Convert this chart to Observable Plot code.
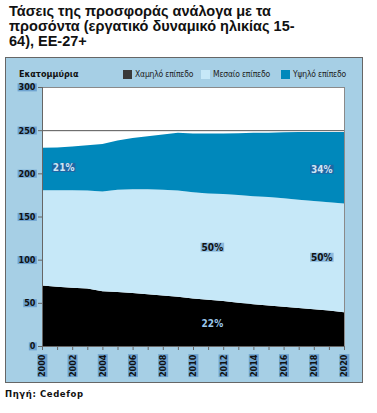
<!DOCTYPE html>
<html><head><meta charset="utf-8">
<script src="https://cdn.jsdelivr.net/npm/d3@7"></script>
<script src="https://cdn.jsdelivr.net/npm/@observablehq/plot@0.6"></script>
<style>
body{margin:0;background:#fff;width:377px;height:413px;position:relative;overflow:hidden;font-family:"Liberation Sans",Arial,sans-serif}
#title{position:absolute;left:9px;top:4px;font-weight:bold;font-size:14.5px;line-height:15px;color:#111;white-space:nowrap}
#panel{position:absolute;left:5px;top:57px;width:356px;height:324px;background:#a6cfe5;border:1px solid #666}
#chart{position:absolute;left:0;top:0}
.nar{font-family:"Liberation Sans Narrow","DejaVu Sans Condensed",sans-serif}
#unit{position:absolute;left:13px;top:11px;font-size:9px;font-weight:bold;color:#111}
.leg{position:absolute;top:11px;font-size:8.5px;color:#222;display:flex;align-items:center;white-space:nowrap;letter-spacing:-0.2px}
.sw{width:9px;height:9px;margin-right:3px;display:inline-block}
#source{position:absolute;left:5px;top:389px;font-family:"DejaVu Sans",sans-serif;font-weight:bold;font-size:8.5px;letter-spacing:0.6px;color:#111}
</style></head>
<body>
<div id="title">Τάσεις της προσφοράς ανάλογα με τα<br>προσόντα (εργατικό δυναμικό ηλικίας 15-<br>64), ΕΕ-27+</div>
<div id="panel">
  <div id="chart"></div>
  <div id="unit" class="nar">Εκατομμύρια</div>
  <div id="legend"></div>
</div>
<div id="source">Πηγή: Cedefop</div>
<script>
// ---- data ----
const years = [2000,2001,2002,2003,2004,2005,2006,2007,2008,2009,2010,2011,2012,2013,2014,2015,2016,2017,2018,2019,2020];
const levels = ["Χαμηλό επίπεδο","Μεσαίο επίπεδο","Υψηλό επίπεδο"];
const lowValues    = [70,68.5,67.5,66.5,63.5,62.5,61.5,60,58.5,57,55,53.5,52,50,48.5,47,45.5,44,42.5,41,39];
const mediumValues = [110.5,112,113,113.5,115.5,118.5,120,121.5,122.5,123,123,123,124,125,125,125.5,125.5,125.5,125.5,125.5,126];
const highValues   = [49,49.5,50.5,52.5,55,57,59.5,61.5,64,67,68,69.5,70,71.5,73.5,74.5,76.5,78.5,80,81.5,83];
const yTicks = [0,50,100,150,200,250,300];
const xTickYears = [2000,2002,2004,2006,2008,2010,2012,2014,2016,2018,2020];
const pctYears  = [2001.4, 2018.5, 2011.25, 2018.5, 2011.25];
const pctValues = [207, 205, 114.7, 103, 26.7];
const pctTexts  = ["21%", "34%", "50%", "50%", "22%"];
const pctLevels = ["Υψηλό επίπεδο","Υψηλό επίπεδο","Μεσαίο επίπεδο","Μεσαίο επίπεδο","Χαμηλό επίπεδο"];

// ---- styles ----
const areaColors = ["#000000","#c6e8f8","#0088bb"];
const swatchColors = ["#3a3a3a","#c6e8f8","#0088bb"];
const pctStyle = {
  "Υψηλό επίπεδο": {box:"#1e67a4", text:"#cfe6f5"},
  "Μεσαίο επίπεδο": {box:"#8ab8dc", text:"#111111"},
  "Χαμηλό επίπεδο": {box:"#000000", text:"#9cc8ec"}
};

const series = [lowValues, mediumValues, highValues];
const table = [];
levels.forEach((lv, i) => years.forEach((y, j) => table.push({year: y, value: series[i][j], level: lv})));
const pct = pctTexts.map((t, i) => ({year: pctYears[i], value: pctValues[i], text: t, level: pctLevels[i]}));

const W = 356, H = 324;
const chart = Plot.plot({
  width: W, height: H,
  marginLeft: 36, marginRight: 18, marginTop: 29, marginBottom: 36,
  style: {fontFamily: "'Liberation Sans Narrow','DejaVu Sans Condensed',sans-serif", fontSize: "9px", fontWeight: "bold", background: "transparent", color: "#111"},
  x: {type: "linear", domain: [2000, 2020]},
  y: {domain: [0, 300]},
  color: {domain: levels, range: areaColors},
  marks: [
    Plot.frame({fill: "white"}),
    Plot.gridY(yTicks.slice(1), {stroke: "#555", strokeOpacity: 1}),
    Plot.areaY(table, {x: "year", y: "value", fill: "level", order: levels}),
    Plot.frame({stroke: "#8a8a8a"}),
    Plot.ruleY([0], {stroke: "#666"}),
    Plot.ruleX([2000], {stroke: "#666"}),
    Plot.axisY({ticks: yTicks, tickSize: 4, tickPadding: 3, stroke: "#666", tickFormat: d => String(d), label: null}),
    Plot.axisX({ticks: years, tickSize: 4, stroke: "#666", tickFormat: () => "", label: null}),
    Plot.axisX({ticks: xTickYears, tickSize: 0, tickPadding: 8, tickRotate: -90, tickFormat: d => String(d), label: null}),
    ...levels.map(lv => Plot.text(pct.filter(d => d.level === lv), {
      x: "year", y: "value", text: "text", fill: pctStyle[lv].text, fontSize: 10, fontWeight: "bold"
    }))
  ]
});
document.getElementById("chart").appendChild(chart);

function boxFor(t, fill, padX, padY) {
  const b = t.getBBox();
  const r = document.createElementNS("http://www.w3.org/2000/svg", "rect");
  r.setAttribute("x", b.x - padX);
  r.setAttribute("y", b.y - padY + 1);
  r.setAttribute("width", b.width + 2 * padX);
  r.setAttribute("height", b.height + 2 * padY - 2);
  r.setAttribute("fill", fill);
  r.setAttribute("stroke", "none");
  const tr = t.getAttribute("transform");
  if (tr) r.setAttribute("transform", tr);
  t.parentNode.insertBefore(r, t);
}
chart.querySelectorAll('g[aria-label="y-axis tick label"] text').forEach(t => boxFor(t, "#6ea3d0", 1, 0));
chart.querySelectorAll('g[aria-label="x-axis tick label"] text').forEach(t => boxFor(t, "#6ea3d0", 0, 1));
// percentage labels: box colour chosen by the label's text colour
const boxByText = {};
levels.forEach(lv => boxByText[pctStyle[lv].text.toLowerCase()] = pctStyle[lv].box);
chart.querySelectorAll("text").forEach(t => {
  if (!/%$/.test(t.textContent)) return;
  let g = t.parentNode, f = null;
  while (g && g !== chart && !f) { f = g.getAttribute && g.getAttribute("fill"); g = g.parentNode; }
  f = (t.getAttribute("fill") || f || "").toLowerCase();
  if (boxByText[f]) boxFor(t, boxByText[f], 1, 0);
});

// ---- legend ----
const legX = [117, 195, 275];
const legend = document.getElementById("legend");
levels.forEach((lv, i) => {
  const d = document.createElement("div");
  d.className = "leg nar";
  d.style.left = legX[i] + "px";
  d.innerHTML = `<span class="sw" style="background:${swatchColors[i]}"></span>${lv}`;
  legend.appendChild(d);
});
</script>
</body></html>
